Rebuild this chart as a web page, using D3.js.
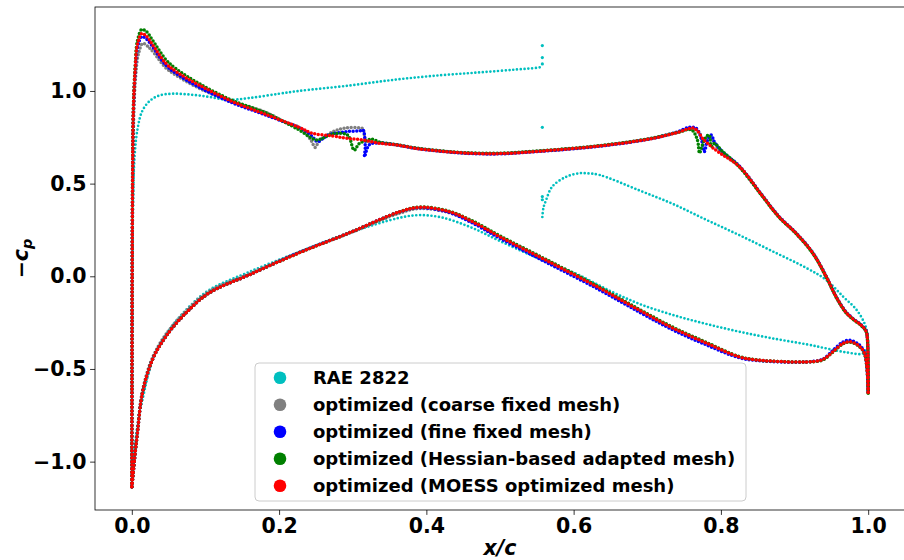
<!DOCTYPE html>
<html>
<head>
<meta charset="utf-8">
<script src="https://cdn.jsdelivr.net/npm/d3@7"></script>
<style>
    html, body { margin: 0; padding: 0; background: #fff; }
    svg { display: block; font-family: "DejaVu Sans", sans-serif; font-weight: bold; }
    .tick text { font-size: 20.5px; font-weight: bold; }
    .legend text { font-size: 18px; }
</style>
</head>
<body>
<svg id="chart" width="904" height="560"></svg>
<script>
// pressure coefficient, -cp vs x/c
const xTicks = [0.0, 0.2, 0.4, 0.6, 0.8, 1.0];
const yTicks = [-1.0, -0.5, 0.0, 0.5, 1.0];

// RAE 2822 baseline
const raeUpper = [[0, -1.135], [0.0003, -0.6], [0.0008, 0.0], [0.002, 0.45], [0.004, 0.66], [0.008, 0.8], [0.014, 0.89],
    [0.024, 0.945], [0.037, 0.975], [0.055, 0.985], [0.08, 0.98], [0.105, 0.968], [0.13, 0.952], [0.16, 0.962],
    [0.2, 0.985], [0.227, 1.0], [0.295, 1.029], [0.36, 1.062], [0.42, 1.085], [0.472, 1.1], [0.52, 1.115],
    [0.55, 1.125], [0.5575, 1.13]];
const raeUpperAft = [[0.5575, 0.32], [0.559, 0.37], [0.5625, 0.41], [0.571, 0.484], [0.59, 0.537], [0.608, 0.556],
    [0.62, 0.555], [0.635, 0.547], [0.69, 0.462], [0.735, 0.39], [0.78, 0.305], [0.825, 0.222], [0.87, 0.135],
    [0.916, 0.045], [0.943, -0.02], [0.966, -0.11], [0.984, -0.18], [0.995, -0.254], [0.999, -0.31], [1.0, -0.37]];
const raeShock = [[0.5575, 1.245], [0.5575, 1.18], [0.5575, 1.146], [0.5575, 0.804], [0.5575, 0.43], [0.5575, 0.413]];
const raeLower = [[0, -1.135], [0.001, -1.08], [0.003, -0.98], [0.007, -0.82], [0.0144, -0.667], [0.03, -0.434],
    [0.0507, -0.29], [0.078, -0.164], [0.105, -0.074], [0.159, 0.023], [0.227, 0.131], [0.295, 0.234],
    [0.363, 0.315], [0.39, 0.33], [0.42, 0.318], [0.46, 0.265], [0.5, 0.19], [0.55, 0.1], [0.6, 0.02],
    [0.65, -0.08], [0.69, -0.15], [0.735, -0.209], [0.78, -0.257], [0.825, -0.299], [0.87, -0.335],
    [0.916, -0.367], [0.943, -0.389], [0.97, -0.41], [0.993, -0.416], [1.0, -0.37]];

// optimized, coarse fixed mesh
const coarseUpper = [[0, -1.135], [0.0002, -0.6], [0.0005, 0.0], [0.0012, 0.5], [0.0025, 0.85], [0.005, 1.07],
    [0.009, 1.2], [0.015, 1.257], [0.022, 1.24], [0.03, 1.205], [0.046, 1.125], [0.06, 1.085], [0.0914, 1.015],
    [0.137, 0.94], [0.182, 0.885], [0.209, 0.83], [0.227, 0.805], [0.243, 0.736], [0.249, 0.695], [0.254, 0.726],
    [0.273, 0.78], [0.29, 0.8], [0.311, 0.8], [0.314, 0.795], [0.318, 0.73], [0.325, 0.724], [0.336, 0.72],
    [0.359, 0.709], [0.386, 0.69], [0.42, 0.675], [0.452, 0.665], [0.5, 0.662], [0.557, 0.676], [0.635, 0.703],
    [0.703, 0.741], [0.74, 0.775], [0.76, 0.795], [0.771, 0.772], [0.775, 0.726], [0.78, 0.75], [0.787, 0.74],
    [0.8, 0.67], [0.825, 0.592], [0.857, 0.43], [0.879, 0.32], [0.902, 0.232], [0.925, 0.124], [0.943, -0.002],
    [0.957, -0.115], [0.97, -0.195], [0.98, -0.232], [0.99, -0.262], [0.997, -0.295], [0.999, -0.34], [1.0, -0.63]];
const coarseLower = [[0, -1.135], [0.001, -1.09], [0.0045, -0.95], [0.0076, -0.835], [0.0144, -0.62], [0.028, -0.44],
    [0.046, -0.315], [0.073, -0.19], [0.105, -0.082], [0.159, 0.012], [0.227, 0.128], [0.295, 0.232],
    [0.363, 0.34], [0.39, 0.365], [0.43, 0.345], [0.46, 0.297], [0.5, 0.212], [0.567, 0.077], [0.635, -0.063],
    [0.69, -0.185], [0.735, -0.28], [0.78, -0.36], [0.825, -0.435], [0.85, -0.452], [0.88, -0.46],
    [0.916, -0.462], [0.938, -0.45], [0.952, -0.407], [0.966, -0.362], [0.975, -0.353], [0.986, -0.371],
    [0.995, -0.416], [1.0, -0.63]];

// optimized, fine fixed mesh
const fineUpper = [[0, -1.135], [0.0002, -0.6], [0.0005, 0.0], [0.001, 0.5], [0.002, 0.87], [0.0045, 1.1],
    [0.008, 1.24], [0.0136, 1.293], [0.02, 1.28], [0.028, 1.24], [0.046, 1.14], [0.06, 1.095], [0.0914, 1.02],
    [0.137, 0.935], [0.182, 0.87], [0.227, 0.8], [0.245, 0.755], [0.252, 0.726], [0.26, 0.745], [0.268, 0.763],
    [0.29, 0.78], [0.311, 0.786], [0.314, 0.79], [0.317, 0.7], [0.316, 0.645], [0.3225, 0.71], [0.336, 0.72],
    [0.359, 0.709], [0.386, 0.69], [0.42, 0.675], [0.452, 0.664], [0.5, 0.661], [0.557, 0.675], [0.635, 0.702],
    [0.703, 0.741], [0.74, 0.778], [0.757, 0.804], [0.766, 0.8], [0.772, 0.76], [0.775, 0.717], [0.7775, 0.672],
    [0.782, 0.736], [0.787, 0.763], [0.791, 0.726], [0.802, 0.672], [0.825, 0.595], [0.857, 0.432],
    [0.879, 0.322], [0.902, 0.234], [0.925, 0.126], [0.943, 0.0], [0.957, -0.113], [0.97, -0.193],
    [0.98, -0.23], [0.99, -0.26], [0.997, -0.293], [0.999, -0.34], [1.0, -0.63]];
const fineLower = [[0, -1.135], [0.001, -1.1], [0.0045, -0.955], [0.0076, -0.846], [0.0144, -0.63], [0.028, -0.45],
    [0.046, -0.326], [0.073, -0.2], [0.105, -0.09], [0.159, 0.007], [0.227, 0.128], [0.295, 0.234],
    [0.363, 0.347], [0.39, 0.37], [0.43, 0.345], [0.46, 0.293], [0.5, 0.205], [0.567, 0.067], [0.635, -0.073],
    [0.69, -0.195], [0.735, -0.29], [0.78, -0.37], [0.825, -0.44], [0.85, -0.455], [0.88, -0.462],
    [0.916, -0.462], [0.938, -0.448], [0.952, -0.4], [0.966, -0.354], [0.975, -0.345], [0.986, -0.364],
    [0.995, -0.41], [1.0, -0.63]];

// optimized, Hessian-based adapted mesh
const hessianUpper = [[0, -1.135], [0.0002, -0.6], [0.0005, 0.0], [0.001, 0.5], [0.002, 0.9], [0.0045, 1.13],
    [0.0076, 1.27], [0.0136, 1.332], [0.02, 1.32], [0.028, 1.275], [0.046, 1.17], [0.06, 1.12], [0.0914, 1.04],
    [0.137, 0.948], [0.182, 0.882], [0.227, 0.79], [0.25, 0.736], [0.259, 0.745], [0.2725, 0.768], [0.29, 0.768],
    [0.295, 0.753], [0.302, 0.68], [0.309, 0.717], [0.327, 0.739], [0.336, 0.724], [0.359, 0.711],
    [0.386, 0.692], [0.42, 0.677], [0.452, 0.667], [0.5, 0.664], [0.557, 0.678], [0.635, 0.705], [0.703, 0.743],
    [0.74, 0.775], [0.76, 0.79], [0.768, 0.736], [0.771, 0.664], [0.774, 0.7], [0.78, 0.753], [0.784, 0.763],
    [0.787, 0.7], [0.791, 0.717], [0.802, 0.675], [0.825, 0.59], [0.857, 0.428], [0.879, 0.318], [0.902, 0.23],
    [0.925, 0.122], [0.943, -0.004], [0.957, -0.117], [0.97, -0.197], [0.98, -0.234], [0.99, -0.264],
    [0.997, -0.297], [0.999, -0.34], [1.0, -0.64]];
const hessianLower = [[0, -1.135], [0.001, -1.1], [0.0045, -0.955], [0.0076, -0.846], [0.0144, -0.63], [0.028, -0.45],
    [0.046, -0.326], [0.073, -0.2], [0.105, -0.09], [0.159, 0.007], [0.227, 0.126], [0.295, 0.234],
    [0.363, 0.347], [0.39, 0.374], [0.43, 0.352], [0.46, 0.304], [0.5, 0.218], [0.567, 0.082], [0.635, -0.058],
    [0.69, -0.18], [0.735, -0.275], [0.78, -0.356], [0.825, -0.433], [0.85, -0.452], [0.88, -0.46],
    [0.916, -0.462], [0.938, -0.452], [0.952, -0.409], [0.966, -0.364], [0.975, -0.355], [0.986, -0.373],
    [0.995, -0.418], [1.0, -0.64]];

// optimized, MOESS optimized mesh
const moessUpper = [[0, -1.135], [0.0002, -0.6], [0.0005, 0.0], [0.001, 0.5], [0.002, 0.88], [0.0045, 1.11],
    [0.0076, 1.25], [0.0136, 1.31], [0.02, 1.295], [0.028, 1.25], [0.046, 1.15], [0.06, 1.105], [0.0914, 1.032],
    [0.137, 0.942], [0.182, 0.873], [0.227, 0.804], [0.245, 0.772], [0.2726, 0.757], [0.291, 0.745],
    [0.313, 0.736], [0.336, 0.718], [0.359, 0.709], [0.386, 0.69], [0.42, 0.675], [0.452, 0.665], [0.5, 0.662],
    [0.557, 0.676], [0.635, 0.703], [0.703, 0.741], [0.74, 0.775], [0.762, 0.8], [0.768, 0.786], [0.775, 0.745],
    [0.782, 0.717], [0.796, 0.672], [0.825, 0.592], [0.857, 0.43], [0.879, 0.32], [0.902, 0.232], [0.925, 0.124],
    [0.943, -0.002], [0.957, -0.115], [0.97, -0.195], [0.98, -0.232], [0.99, -0.262], [0.997, -0.295],
    [0.999, -0.34], [1.0, -0.63]];
const moessLower = [[0, -1.135], [0.001, -1.1], [0.0045, -0.955], [0.0076, -0.846], [0.0144, -0.63], [0.028, -0.45],
    [0.046, -0.326], [0.073, -0.2], [0.105, -0.09], [0.159, 0.007], [0.227, 0.126], [0.295, 0.234],
    [0.363, 0.347], [0.39, 0.372], [0.43, 0.35], [0.46, 0.3], [0.5, 0.213], [0.567, 0.077], [0.635, -0.063],
    [0.69, -0.185], [0.735, -0.28], [0.78, -0.36], [0.825, -0.435], [0.85, -0.452], [0.88, -0.46],
    [0.916, -0.462], [0.938, -0.45], [0.952, -0.407], [0.966, -0.362], [0.975, -0.353], [0.986, -0.371],
    [0.995, -0.416], [1.0, -0.63]];

const seriesNames = [
    "RAE 2822",
    "optimized (coarse fixed mesh)",
    "optimized (fine fixed mesh)",
    "optimized (Hessian-based adapted mesh)",
    "optimized (MOESS optimized mesh)"
];
const seriesColors = ["#00bfbf", "#808080", "#0000ff", "#008000", "#ff0000"];
const seriesCurves = [
    [raeUpper, raeUpperAft, raeLower],
    [coarseUpper, coarseLower],
    [fineUpper, fineLower],
    [hessianUpper, hessianLower],
    [moessUpper, moessLower]
];

const svg = d3.select("#chart");
const margin = { left: 95, right: 905, top: 7, bottom: 510 };

const x = d3.scaleLinear().domain([-0.05, 1.05]).range([margin.left, margin.right]);
const y = d3.scaleLinear().domain([-1.261, 1.453]).range([margin.bottom, margin.top]);

const fmt = d => (d < 0 ? "\u2212" : "") + Math.abs(d).toFixed(1);

// curves: dotted strokes so they read like dense scatter markers
const line = d3.line()
    .x(d => x(d[0]))
    .y(d => y(d[1]))
    .curve(d3.curveCatmullRom.alpha(0.5));

const gData = svg.append("g").attr("class", "curves");

seriesCurves.forEach((curves, i) => {
    const g = gData.append("g").attr("class", "series");
    g.selectAll("path")
        .data(curves)
        .join("path")
        .attr("d", line)
        .attr("fill", "none")
        .attr("stroke", seriesColors[i])
        .attr("stroke-width", i === 0 ? 2.7 : 3.5)
        .attr("stroke-linecap", "round")
        .attr("stroke-dasharray", i === 0 ? "0 3.8" : "0 3.6");
});

// loose points at the baseline shock
gData.append("g").selectAll("circle")
    .data(raeShock)
    .join("circle")
    .attr("cx", d => x(d[0]))
    .attr("cy", d => y(d[1]))
    .attr("r", 1.6)
    .attr("fill", seriesColors[0]);

// axes
svg.append("g")
    .attr("transform", `translate(0,${margin.bottom})`)
    .call(d3.axisBottom(x).tickValues(xTicks).tickFormat(fmt).tickSize(4.9).tickPadding(3.5))
    .call(g => g.select(".domain").remove());

svg.append("g")
    .attr("transform", `translate(${margin.left},0)`)
    .call(d3.axisLeft(y).tickValues(yTicks).tickFormat(fmt).tickSize(4.9).tickPadding(3.5))
    .call(g => g.select(".domain").remove());

svg.selectAll(".tick line").attr("stroke", "#000").attr("stroke-width", 0.8);
svg.selectAll(".tick text").attr("fill", "#000").attr("font-family", "DejaVu Sans");

svg.append("rect")
    .attr("x", margin.left)
    .attr("y", margin.top)
    .attr("width", margin.right - margin.left)
    .attr("height", margin.bottom - margin.top)
    .attr("fill", "none")
    .attr("stroke", "#000")
    .attr("stroke-width", 0.8);

// axis labels
svg.append("text")
    .attr("x", (margin.left + margin.right) / 2)
    .attr("y", 555)
    .attr("text-anchor", "middle")
    .attr("font-size", 20.5)
    .attr("font-style", "italic")
    .text("x/c");

const yLabel = svg.append("text")
    .attr("transform", `translate(28,${(margin.top + margin.bottom) / 2}) rotate(-90)`)
    .attr("text-anchor", "middle")
    .attr("font-size", 20.5)
    .attr("font-style", "italic");
yLabel.append("tspan").text("\u2212c");
yLabel.append("tspan").attr("font-size", 14.5).attr("dy", 4).text("p");

// legend
const legend = svg.append("g").attr("class", "legend");
legend.append("rect")
    .attr("x", 255)
    .attr("y", 363)
    .attr("width", 491)
    .attr("height", 138)
    .attr("rx", 4)
    .attr("fill", "#fff")
    .attr("fill-opacity", 0.8)
    .attr("stroke", "#cccccc");

const item = legend.selectAll(".item")
    .data(seriesNames)
    .join("g")
    .attr("class", "item")
    .attr("transform", (d, i) => `translate(0,${377.7 + i * 27})`);

item.append("circle")
    .attr("cx", 280)
    .attr("r", 6.3)
    .attr("fill", (d, i) => seriesColors[i]);

item.append("text")
    .attr("x", 313)
    .attr("y", 6.5)
    .text(d => d);
</script>
</body>
</html>
